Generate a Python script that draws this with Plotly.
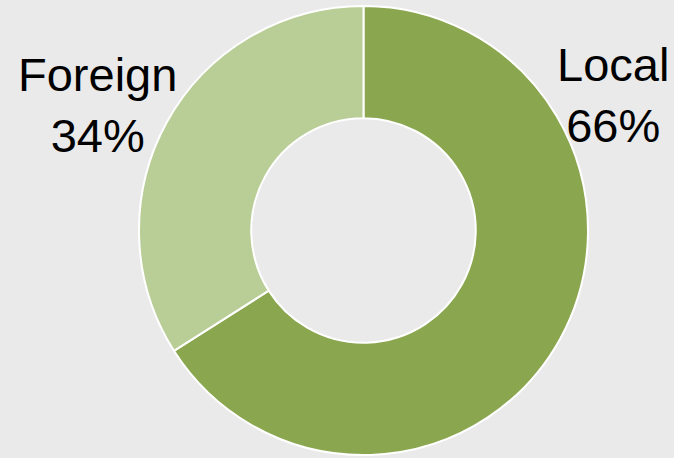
import plotly.graph_objects as go

labels = ["Local", "Foreign"]
values = [66, 34]
colors = ["#8AA64F", "#B9CE97"]

W, H = 674, 458
cx, cy, R = 363.5, 230.5, 224.5

fig = go.Figure()
fig.add_trace(go.Pie(
    labels=labels,
    values=values,
    hole=0.5,
    sort=False,
    direction="clockwise",
    rotation=0,
    textinfo="none",
    hoverinfo="label+percent",
    marker=dict(colors=colors, line=dict(color="white", width=2)),
    domain=dict(x=[(cx - R) / W, (cx + R) / W],
                y=[(H - cy - R) / H, (H - cy + R) / H]),
    showlegend=False,
))

total = sum(values)
label_pos = {"Local": (613, 95), "Foreign": (97, 105)}
for lab, val in zip(labels, values):
    x, y = label_pos[lab]
    fig.add_annotation(
        x=x / W, y=1 - y / H, xref="paper", yref="paper",
        text=f"{lab}<br>{round(100 * val / total)}%",
        showarrow=False, align="center",
        xanchor="center", yanchor="middle",
        font=dict(family="Liberation Sans, Arial, sans-serif", size=47, color="black"),
    )

fig.update_layout(
    width=W, height=H,
    margin=dict(l=0, r=0, t=0, b=0),
    paper_bgcolor="#EAEAEA",
    plot_bgcolor="#EAEAEA",
)
fig.write_html(
    "out.html",
    config={"displayModeBar": False},
    post_script="document.body.style.margin='0';document.body.style.overflow='hidden';document.body.style.background='#EAEAEA';",
)
